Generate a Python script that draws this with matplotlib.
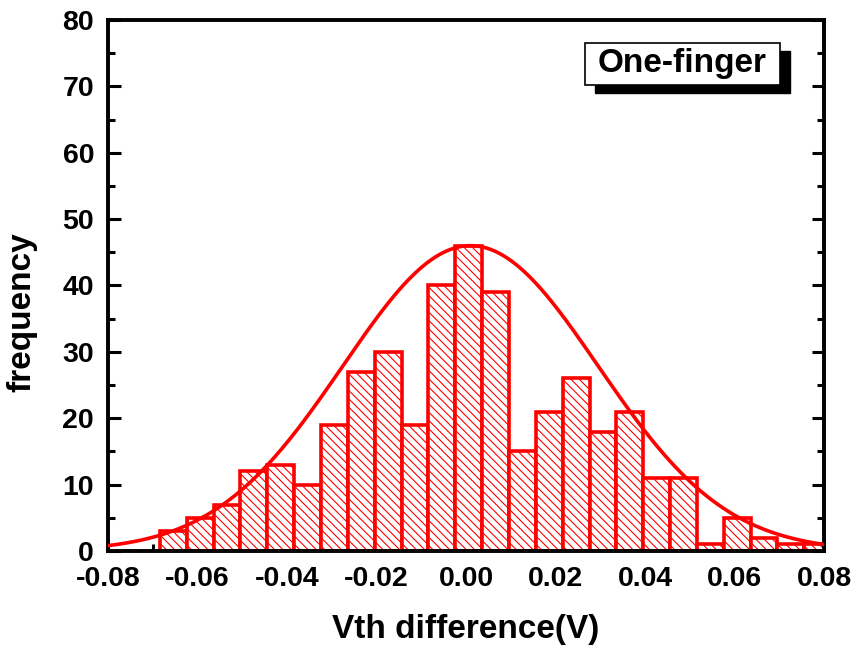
import numpy as np
import matplotlib
matplotlib.use('Agg')
import matplotlib.pyplot as plt
from matplotlib.patches import Rectangle

plt.rcParams['font.family'] = ['Liberation Sans', 'DejaVu Sans']
plt.rcParams['font.weight'] = 'bold'
plt.rcParams['hatch.linewidth'] = 0.8
plt.rcParams['hatch.color'] = 'red'

# histogram (bin width ~0.006 V)
bin_start = -0.0684
bin_width = 0.006
counts = [3, 5, 7, 12, 13, 10, 19, 27, 30, 19, 40, 46, 39,
          15, 21, 26, 18, 21, 11, 11, 1, 5, 2, 1, 1]

# gaussian fit
fit_amp = 46
fit_mu = 0.001
fit_sigma = 0.0285

xticks = [-0.08, -0.06, -0.04, -0.02, 0.00, 0.02, 0.04, 0.06, 0.08]
yticks = [0, 10, 20, 30, 40, 50, 60, 70, 80]

fig = plt.figure(figsize=(8.59, 6.55), dpi=100)
ax = fig.add_axes([0.1257, 0.1588, 0.8336, 0.8107])

edges = bin_start + bin_width * np.arange(len(counts))
ax.bar(edges, counts, width=bin_width, align='edge', facecolor='white',
       edgecolor='red', linewidth=2.6, hatch='\\\\\\\\', zorder=2)

xs = np.linspace(-0.08, 0.08, 400)
ax.plot(xs, fit_amp * np.exp(-(xs - fit_mu) ** 2 / (2 * fit_sigma ** 2)),
        color='red', lw=2.6, zorder=3)

ax.set_xlim(-0.08, 0.08)
ax.set_ylim(0, 80)
ax.set_xticks(xticks)
ax.set_xticklabels(['%.2f' % v for v in xticks])
ax.set_yticks(yticks)
ax.set_xticks(np.arange(-0.07, 0.08, 0.02), minor=True)
ax.set_yticks(np.arange(5, 80, 10), minor=True)

for s in ax.spines.values():
    s.set_linewidth(2.8)
ax.tick_params(which='both', direction='in', width=2.2, right=True, top=False,
               labelsize=20.5)
ax.tick_params(axis='x', which='both', pad=11)
ax.tick_params(axis='y', which='both', pad=10)
ax.tick_params(which='major', length=9)
ax.tick_params(which='minor', length=5)

ax.set_xlabel('Vth difference(V)', fontsize=24, fontweight='bold', labelpad=16)
ax.set_ylabel('frequency', fontsize=24, fontweight='bold')
ax.yaxis.set_label_coords(-0.099, 0.45)

# shadowed label box
ax.add_patch(Rectangle((0.680, 0.862), 0.272, 0.079, transform=ax.transAxes,
                       facecolor='black', edgecolor='black', zorder=5, clip_on=False))
ax.add_patch(Rectangle((0.666, 0.878), 0.272, 0.079, transform=ax.transAxes,
                       facecolor='white', edgecolor='black', lw=1.2, zorder=6, clip_on=False))
ax.text(0.802, 0.9175, 'One-finger', transform=ax.transAxes, ha='center', va='center',
        fontsize=24, fontweight='bold', zorder=7)

fig.savefig('out.png', dpi=100)
